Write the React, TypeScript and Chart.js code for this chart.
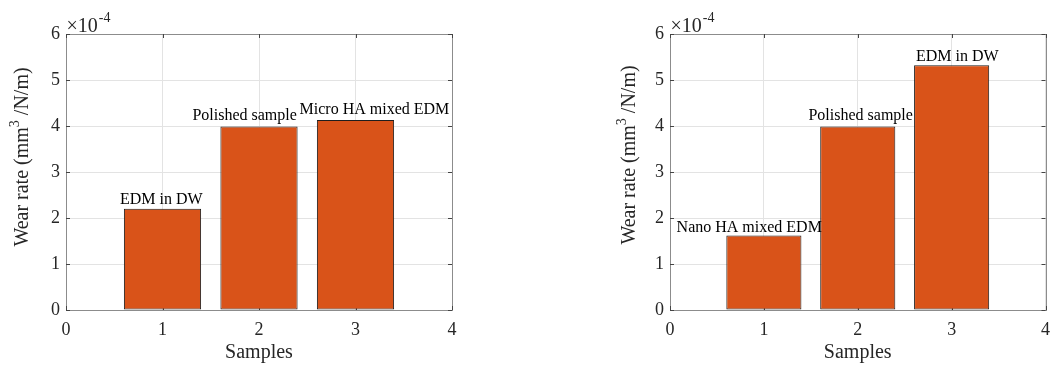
import React, { useEffect, useRef } from "react";
import { Chart, registerables } from "chart.js";

Chart.register(...registerables);

// ---- data ----
const samplePositions = [1, 2, 3];
const leftLabels = ["EDM in DW", "Polished sample", "Micro HA mixed EDM"];
const leftValues = [2.2, 3.99, 4.13]; // ×10^-4 mm^3/N/m
const rightLabels = ["Nano HA mixed EDM", "Polished sample", "EDM in DW"];
const rightValues = [1.62, 3.99, 5.32]; // ×10^-4 mm^3/N/m
// text annotation anchors in data units (left edge x, baseline y)
const leftTextX = [0.56, 1.31, 2.42];
const leftTextY = [2.3, 4.14, 4.26];
const rightTextX = [0.07, 1.475, 2.62];
const rightTextY = [1.7, 4.12, 5.42];
const xTickValues = [0, 1, 2, 3, 4];
const yTickValues = [0, 1, 2, 3, 4, 5, 6];
const yExponent = "-4";
const xTitle = "Samples";
const yTitleHead = "Wear rate (mm";
const yTitleSup = "3";
const yTitleTail = " /N/m)";

const SERIF = "'Liberation Serif', 'Times New Roman', serif";
const BAR_COLOR = "#D95319";
const TEXT_COLOR = "#262626";
const GRID_COLOR = "#e3e3e3";

type Panel = {
  width: number;
  yWidth: number;
  padRight: number;
  titleX: number;
  titleY: number;
  values: number[];
  labels: string[];
  textX: number[];
  textY: number[];
};

const matlabPlugin = (p: Panel) => ({
  id: "matlabAxes",
  beforeDatasetsDraw(chart: any) {
    const { ctx, chartArea: a, scales } = chart;
    ctx.save();
    // box
    ctx.strokeStyle = "#8c8c8c";
    ctx.lineWidth = 1;
    ctx.strokeRect(Math.round(a.left) + 0.5, Math.round(a.top) + 0.5, Math.round(a.right - a.left), Math.round(a.bottom - a.top));
    // inward ticks
    ctx.strokeStyle = "#444444";
    const tl = 4;
    ctx.beginPath();
    xTickValues.forEach((v) => {
      const x = Math.round(scales.x.getPixelForValue(v)) + 0.5;
      ctx.moveTo(x, a.bottom);
      ctx.lineTo(x, a.bottom - tl);
      ctx.moveTo(x, a.top);
      ctx.lineTo(x, a.top + tl);
    });
    yTickValues.forEach((v) => {
      const y = Math.round(scales.y.getPixelForValue(v)) + 0.5;
      ctx.moveTo(a.left, y);
      ctx.lineTo(a.left + tl, y);
      ctx.moveTo(a.right, y);
      ctx.lineTo(a.right - tl, y);
    });
    ctx.stroke();
    ctx.restore();
  },
  afterDatasetsDraw(chart: any) {
    const { ctx, chartArea: a, scales } = chart;
    ctx.save();
    // bar annotations
    ctx.fillStyle = "#000";
    ctx.font = `16px ${SERIF}`;
    ctx.textAlign = "left";
    ctx.textBaseline = "alphabetic";
    p.labels.forEach((t, i) => {
      ctx.fillText(t, scales.x.getPixelForValue(p.textX[i]), scales.y.getPixelForValue(p.textY[i]));
    });
    // exponent multiplier
    ctx.fillStyle = TEXT_COLOR;
    ctx.font = `20px ${SERIF}`;
    const bx = a.left + 0.5;
    const by = 31.5;
    ctx.fillText("×10", bx, by);
    const w = ctx.measureText("×10").width;
    ctx.font = `14px ${SERIF}`;
    ctx.fillText(yExponent, bx + w + 1, by - 10);
    // y title with superscript
    ctx.translate(p.titleX, p.titleY);
    ctx.rotate(-Math.PI / 2);
    const mainFont = `20px ${SERIF}`;
    const supFont = `14px ${SERIF}`;
    ctx.font = mainFont;
    const w1 = ctx.measureText(yTitleHead).width;
    const w3 = ctx.measureText(yTitleTail).width;
    ctx.font = supFont;
    const w2 = ctx.measureText(yTitleSup).width;
    const total = w1 + w2 + w3;
    let x = -total / 2;
    ctx.textBaseline = "middle";
    ctx.font = mainFont;
    ctx.fillText(yTitleHead, x, 0);
    x += w1;
    ctx.font = supFont;
    ctx.fillText(yTitleSup, x, -8);
    x += w2;
    ctx.font = mainFont;
    ctx.fillText(yTitleTail, x, 0);
    ctx.restore();
  },
});

function makeConfig(p: Panel): any {
  return {
    type: "bar",
    data: {
      datasets: [
        {
          data: samplePositions.map((x, i) => ({ x, y: p.values[i] })),
          backgroundColor: BAR_COLOR,
          borderColor: "#1e1e1e",
          borderWidth: 1,
          borderSkipped: false,
          barPercentage: 0.8,
          categoryPercentage: 1,
        },
      ],
    },
    options: {
      responsive: false,
      animation: false,
      devicePixelRatio: 1,
      layout: { padding: { left: 0, right: p.padRight, top: 34, bottom: 0 } },
      plugins: { legend: { display: false }, tooltip: { enabled: false } },
      scales: {
        x: {
          type: "linear",
          min: 0,
          max: 4,
          offset: false,
          afterBuildTicks: (s: any) => {
            s.ticks = xTickValues.map((v) => ({ value: v }));
          },
          ticks: {
            autoSkip: false,
            color: TEXT_COLOR,
            font: { family: SERIF, size: 18 },
            padding: 9,
            maxRotation: 0,
            callback: (v: any) => String(v),
          },
          grid: { color: GRID_COLOR, drawTicks: false, offset: false },
          border: { display: false },
          title: {
            display: true,
            text: xTitle,
            color: TEXT_COLOR,
            font: { family: SERIF, size: 20 },
            padding: { top: 0, bottom: 0 },
          },
          afterFit: (s: any) => {
            s.height = 55;
          },
        },
        y: {
          type: "linear",
          min: 0,
          max: 6,
          afterBuildTicks: (s: any) => {
            s.ticks = yTickValues.map((v) => ({ value: v }));
          },
          ticks: {
            autoSkip: false,
            color: TEXT_COLOR,
            font: { family: SERIF, size: 18 },
            padding: 6,
            callback: (v: any) => String(v),
          },
          grid: { color: GRID_COLOR, drawTicks: false },
          border: { display: false },
          afterFit: (s: any) => {
            s.width = p.yWidth;
          },
        },
      },
    },
    plugins: [matlabPlugin(p)],
  };
}

const leftPanel: Panel = {
  width: 520,
  yWidth: 66,
  padRight: 68,
  titleX: 23,
  titleY: 157,
  values: leftValues,
  labels: leftLabels,
  textX: leftTextX,
  textY: leftTextY,
};

const rightPanel: Panel = {
  width: 539,
  yWidth: 150,
  padRight: 4,
  titleX: 110,
  titleY: 155,
  values: rightValues,
  labels: rightLabels,
  textX: rightTextX,
  textY: rightTextY,
};

function BarPanel({ panel, left }: { panel: Panel; left: number }) {
  const ref = useRef<HTMLCanvasElement | null>(null);
  useEffect(() => {
    if (!ref.current) return;
    const chart = new Chart(ref.current, makeConfig(panel));
    return () => chart.destroy();
  }, [panel]);
  return (
    <canvas
      ref={ref}
      width={panel.width}
      height={365}
      style={{ position: "absolute", left, top: 0, width: panel.width, height: 365, display: "block" }}
    />
  );
}

export default function App() {
  return (
    <div style={{ position: "absolute", left: 0, top: 0, width: 1059, height: 365, background: "#fff", overflow: "hidden" }}>
      <BarPanel panel={leftPanel} left={0} />
      <BarPanel panel={rightPanel} left={520} />
    </div>
  );
}
